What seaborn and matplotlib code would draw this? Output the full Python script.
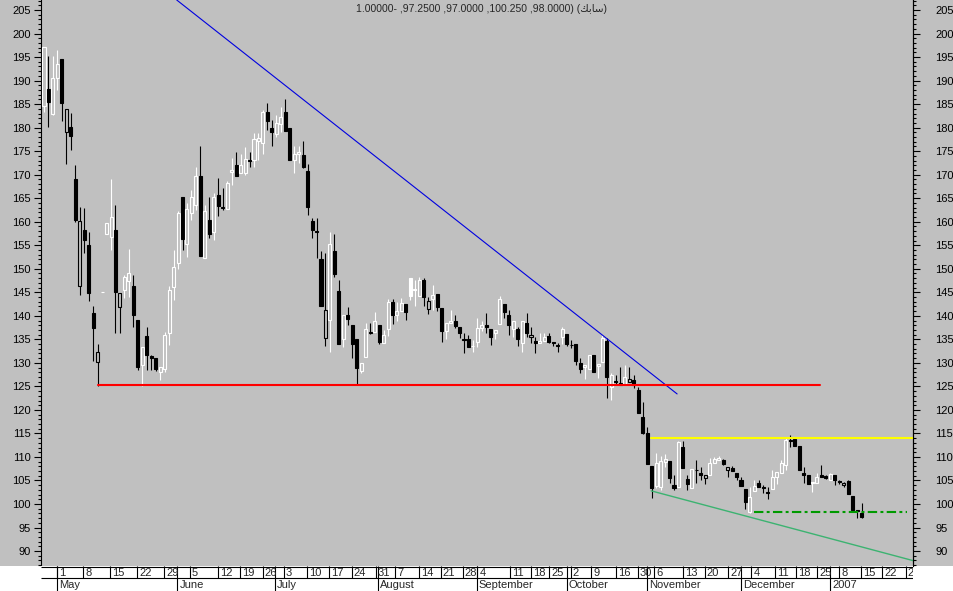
import matplotlib
matplotlib.use("Agg")
import matplotlib.pyplot as plt
from matplotlib.ticker import MultipleLocator
from matplotlib.patches import Rectangle
import numpy as np
import seaborn as sns

# daily candles, one per trading day
open_ = [184.7, 188.3, 183.0, 190.5, 194.5, 179.0, 180.2, 169.1, 146.4, 158.2,
         155.05, 140.5, 130.1, 145.1, 157.4, 156.7, 158.2, 141.9, 145.5, 147.5,
         146.3, 139.1, 129.5, 135.7, 131.5, 131.0, 128.1, 128.6, 136.3, 146.05,
         151.2, 165.3, 155.2, 161.8, 163.55, 169.7, 152.2, 160.4, 157.9, 165.7,
         162.9, 162.8, 170.6, 172.1, 170.3, 170.4, 173.2, 173.2, 177.2, 176.66,
         183.25, 180.0, 178.7, 180.8, 183.25, 180.0, 173.1, 174.4, 174.2, 170.8,
         160.2, 158.1, 152.1, 135.2, 139.1, 153.8, 145.35, 135.0, 140.2, 138.0,
         135.0, 128.35, 131.3, 136.6, 136.6, 138.0, 134.3, 137.1, 142.9, 140.2,
         141.1, 142.5, 148.1, 145.4, 144.2, 147.6, 141.4, 143.5, 144.6, 141.7,
         136.85, 138.4, 139.0, 137.7, 135.0, 135.0, 133.5, 134.5, 137.34, 138.05,
         137.2, 136.3, 138.3, 142.5, 140.2, 137.1, 137.2, 134.3, 138.4, 135.4,
         134.65, 134.2, 134.65, 135.7, 134.5, 133.7, 135.6, 136.1, 133.9, 134.0,
         129.9, 129.2, 128.8, 131.7, 129.4, 130.25, 134.7, 124.9, 126.1, 125.8,
         125.5, 126.0, 126.4, 124.2, 118.6, 115.0, 108.1, 103.9, 103.7, 109.0,
         109.2, 104.0, 103.7, 112.05, 105.25, 103.3, 107.3, 106.5, 105.5, 106.2,
         108.65, 109.35, 109.35, 107.2, 107.6, 106.7, 105.1, 103.2, 98.4, 102.75,
         104.4, 103.6, 102.5, 103.1, 105.7, 106.7, 108.3, 113.7, 113.75, 112.3,
         106.5, 106.2, 104.4, 104.5, 106.2, 106.0, 105.1, 106.2, 104.8, 104.05,
         104.9, 101.7, 98.8, 98.0]
high = [197.1, 195.2, 195.2, 196.6, 194.6, 184.0, 183.2, 172.1, 163.2, 162.85,
        157.9, 142.1, 134.0, 145.1, 159.7, 169.0, 163.55, 144.8, 148.7, 154.1,
        148.6, 139.1, 133.3, 137.7, 131.7, 131.0, 129.05, 136.6, 146.3, 154.0,
        162.3, 165.3, 164.0, 166.7, 171.6, 176.1, 163.5, 165.3, 166.0, 169.2,
        167.1, 168.7, 173.6, 174.9, 174.5, 175.9, 174.9, 178.8, 178.8, 183.75,
        185.2, 181.6, 182.7, 184.45, 186.1, 180.0, 176.2, 176.0, 177.2, 172.3,
        160.7, 160.7, 153.8, 153.3, 157.9, 157.3, 147.6, 140.2, 141.8, 138.0,
        135.0, 129.9, 138.4, 138.4, 140.9, 138.0, 137.0, 143.6, 143.5, 143.0,
        143.7, 142.5, 148.1, 147.6, 148.3, 148.0, 144.1, 146.6, 144.6, 141.7,
        138.4, 141.2, 140.2, 137.7, 136.3, 135.9, 134.9, 139.5, 139.0, 140.5,
        137.2, 137.0, 144.2, 142.5, 141.2, 138.8, 137.7, 139.0, 140.5, 137.7,
        135.6, 136.3, 136.3, 136.3, 134.5, 134.3, 137.7, 136.1, 134.9, 134.0,
        131.0, 129.5, 131.7, 131.7, 129.8, 135.9, 135.2, 127.8, 127.4, 129.2,
        129.5, 129.2, 127.4, 124.8, 121.7, 116.4, 108.1, 110.9, 110.3, 110.6,
        109.2, 106.2, 113.5, 113.5, 106.2, 107.4, 109.3, 107.9, 106.2, 109.7,
        109.9, 110.2, 109.6, 107.9, 108.0, 106.7, 105.8, 103.2, 103.7, 105.1,
        105.1, 104.0, 103.7, 107.2, 106.9, 109.4, 114.0, 114.7, 113.75, 112.3,
        107.9, 106.2, 104.75, 106.5, 108.3, 106.2, 106.6, 106.2, 105.0, 104.75,
        105.0, 101.7, 98.8, 100.25]
low = [183.4, 180.2, 182.7, 188.1, 181.5, 172.2, 175.2, 160.0, 144.4, 153.4,
       143.2, 130.5, 125.1, 145.1, 157.4, 154.0, 136.4, 136.4, 143.7, 144.1,
       137.7, 128.5, 125.0, 128.5, 128.5, 128.3, 126.3, 128.1, 133.8, 143.4,
       149.9, 154.0, 152.6, 160.4, 162.5, 152.8, 152.2, 156.5, 156.1, 161.2,
       162.5, 162.8, 167.8, 169.7, 170.3, 170.0, 171.6, 171.7, 173.1, 174.5,
       179.5, 176.2, 178.1, 179.1, 179.35, 173.1, 170.3, 172.4, 171.35, 161.4,
       156.5, 152.2, 142.1, 133.6, 132.4, 148.3, 134.0, 133.4, 138.0, 131.0,
       125.5, 127.8, 131.3, 136.2, 136.6, 134.0, 134.3, 135.7, 138.3, 139.0,
       141.1, 139.1, 143.4, 142.1, 144.2, 142.1, 140.4, 141.2, 141.0, 134.5,
       135.0, 138.4, 137.35, 135.2, 132.0, 133.45, 132.4, 133.45, 136.8, 136.3,
       133.8, 135.0, 138.3, 139.5, 135.9, 135.6, 133.6, 132.4, 135.4, 134.2,
       132.2, 134.2, 134.65, 134.3, 133.6, 132.4, 134.0, 133.5, 133.1, 129.6,
       127.8, 126.5, 128.8, 128.1, 126.7, 130.25, 122.5, 122.1, 125.3, 125.3,
       125.5, 126.0, 124.6, 119.3, 114.9, 108.6, 101.2, 103.3, 103.0, 107.8,
       104.4, 103.0, 103.7, 107.6, 103.0, 103.3, 104.4, 105.1, 104.25, 106.2,
       108.65, 109.35, 108.3, 105.7, 107.1, 105.1, 103.9, 98.9, 98.0, 102.75,
       103.7, 102.3, 101.0, 103.1, 104.3, 106.7, 107.2, 112.2, 112.3, 107.2,
       104.4, 104.3, 102.6, 104.5, 105.7, 105.3, 105.1, 104.0, 104.3, 103.7,
       102.1, 98.2, 97.0, 97.0]
close = [197.1, 185.5, 190.5, 193.5, 185.2, 184.0, 178.3, 160.4, 160.15, 156.1,
         144.8, 137.5, 132.25, 145.1, 159.7, 161.1, 145.1, 144.8, 148.3, 149.2,
         140.2, 129.05, 133.3, 131.7, 131.1, 128.8, 129.05, 135.9, 145.5, 150.3,
         161.9, 156.25, 162.8, 165.3, 169.7, 152.8, 162.35, 157.4, 165.3, 163.3,
         163.2, 168.2, 171.0, 169.7, 172.0, 173.3, 173.0, 177.6, 177.7, 183.4,
         181.5, 179.0, 181.05, 182.2, 179.35, 173.1, 174.3, 174.9, 171.7, 163.2,
         158.2, 157.8, 142.1, 141.2, 155.3, 148.9, 134.0, 140.2, 139.3, 134.0,
         129.0, 129.9, 137.1, 136.3, 139.0, 134.5, 135.9, 143.0, 140.2, 141.0,
         142.7, 140.9, 144.2, 145.6, 147.6, 143.9, 143.2, 144.4, 141.8, 136.85,
         138.4, 139.0, 137.8, 136.4, 134.9, 133.45, 133.6, 137.35, 138.05, 137.55,
         135.6, 137.0, 143.5, 140.9, 138.05, 138.8, 135.1, 139.0, 136.3, 135.9,
         134.2, 134.6, 135.6, 134.5, 134.15, 133.6, 137.1, 134.0, 133.8, 130.5,
         128.7, 129.5, 131.7, 128.1, 129.8, 135.2, 127.07, 127.4, 126.0, 125.4,
         127.1, 126.5, 125.3, 119.3, 115.2, 108.6, 103.3, 108.65, 109.2, 109.5,
         105.5, 103.3, 113.25, 107.6, 104.25, 107.4, 107.2, 106.2, 106.1, 108.8,
         109.5, 109.7, 108.5, 107.9, 107.1, 105.7, 103.9, 100.5, 101.4, 103.8,
         103.7, 103.5, 102.4, 105.7, 106.9, 108.8, 113.6, 113.5, 112.3, 107.2,
         106.2, 104.3, 104.75, 105.8, 105.7, 105.5, 106.4, 105.0, 104.7, 104.5,
         102.1, 98.7, 98.6, 97.25]

# date axis (positions in trading-day slots)
day_labels = ["1", "8", "15", "22", "29", "5", "12", "19", "26", "3", "10", "17",
              "24", "31", "7", "14", "21", "28", "4", "11", "18", "25", "2", "9",
              "16", "30", "6", "13", "20", "27", "4", "11", "18", "25", "8", "15",
              "22", "29"]
day_pos = [2.84, 8.80, 14.77, 20.88, 26.93, 32.68, 39.01, 43.87, 48.95, 53.72,
           58.93, 63.86, 68.87, 74.31, 78.63, 84.0, 88.79, 93.71, 96.98, 104.23,
           109.06, 113.03, 117.88, 122.5, 128.09, 132.95, 136.53, 143.08, 147.87,
           153.09, 158.3, 163.54, 168.24, 173.07, 177.93, 182.79, 187.62, 192.86]
month_labels = ["May", "June", "July", "August", "September", "October",
                "November", "December", "2007"]
month_pos = [2.84, 29.83, 51.7, 74.82, 96.84, 116.99, 135.03, 155.93, 175.92]

# drawn trend lines: (slot, price)
blue_x, blue_y = [29.7, 141.7], [207.13, 123.4]
red_x, red_y = [12.0, 173.7], [125.4, 125.4]
yellow_x, yellow_y = [135.8, 194.5], [113.96, 113.96]
green_x, green_y = [135.9, 194.6], [102.8, 87.95]
gdash_x, gdash_y = [158.9, 193.2], [98.2, 98.2]

header = "1.00000- ,97.2500 ,97.0000 ,100.250 ,98.0000) (\uFEDA\uFE91\uFE8E\uFEB3)"

BG = "#C0C0C0"
W, H = 954, 591
X0, SLOT = 44.0, 4.468
STRIP = 25

sns.set_theme(style="ticks", rc={"axes.facecolor": BG, "figure.facecolor": BG,
                                 "axes.edgecolor": "black", "xtick.color": "black",
                                 "ytick.color": "black"})
plt.rcParams["font.family"] = ["Liberation Sans", "DejaVu Sans"]
plt.rcParams["font.size"] = 8

fig = plt.figure(figsize=(W / 100, H / 100), dpi=100)
fig.patches.append(Rectangle((0, 0), 1, STRIP / H, transform=fig.transFigure,
                             facecolor="white", edgecolor="none", zorder=-5))

ax = fig.add_axes([41 / W, STRIP / H, 872 / W, (H - STRIP) / H])
xlim = ((41 - X0) / SLOT, (913 - X0) / SLOT)
ylim = (205 - 556 / 4.705, 205 + 10 / 4.705)
ax.set_xlim(xlim)
ax.set_ylim(ylim)

o = np.array(open_)
h = np.array(high)
l = np.array(low)
c = np.array(close)
x = np.arange(len(c))
prev = np.concatenate([[c[0] - 1], c[:-1]])
edge = np.where(c >= prev, "white", "black")
face = np.where(c > o, BG, edge)

ax.vlines(x, l, h, colors=edge, lw=0.8, zorder=2)
body_h = np.maximum(np.abs(c - o), 0.05)
ax.bar(x, body_h, bottom=np.minimum(o, c), width=0.68, color=face,
       edgecolor=edge, linewidth=0.8, zorder=3)

sns.lineplot(x=blue_x, y=blue_y, color="#0000E0", lw=0.8, ax=ax, zorder=4)
sns.lineplot(x=red_x, y=red_y, color="#FF0000", lw=1.5, ax=ax, zorder=4)
sns.lineplot(x=yellow_x, y=yellow_y, color="#FFFF00", lw=1.5, ax=ax, zorder=4)
sns.lineplot(x=green_x, y=green_y, color="#3CB371", lw=1.0, ax=ax, zorder=4)
sns.lineplot(x=gdash_x, y=gdash_y, color="#009A00", lw=1.5, ax=ax, zorder=4,
             linestyle=(0, (4.5, 1.6, 1.4, 1.6)))

ax.set_xticks([])
for s in ["top", "bottom"]:
    ax.spines[s].set_visible(False)
for s in ["left", "right"]:
    ax.spines[s].set_linewidth(0.8)
ax.yaxis.set_major_locator(MultipleLocator(5))
ax.yaxis.set_minor_locator(MultipleLocator(1))
ax.tick_params(axis="y", which="major", length=5, width=0.8, pad=2.4, labelsize=8)
ax.tick_params(axis="y", which="minor", length=2.2, width=0.8)

ax2 = ax.twinx()
ax2.set_ylim(ylim)
ax2.yaxis.set_major_locator(MultipleLocator(5))
ax2.yaxis.set_minor_locator(MultipleLocator(1))
ax2.tick_params(axis="y", which="major", length=5, width=0.8, pad=11, labelsize=8)
ax2.tick_params(axis="y", which="minor", length=2.2, width=0.8)
for s in ["top", "bottom", "left"]:
    ax2.spines[s].set_visible(False)
ax2.spines["right"].set_linewidth(0.8)

# date strip
axd = fig.add_axes([41 / W, 0, 872 / W, STRIP / H])
axd.set_facecolor("white")
axd.set_zorder(5)
axd.set_xlim(xlim)
axd.set_ylim(STRIP, 0)
axd.set_xticks([])
axd.set_yticks([])
for s in axd.spines.values():
    s.set_visible(False)
axd.hlines([0.5, 12], xlim[0], xlim[1], colors="black", lw=0.8)
axd.vlines(day_pos, 0, 12, colors="black", lw=0.8)
axd.vlines(month_pos, 0, STRIP, colors="black", lw=0.8)
for p, t in zip(day_pos, day_labels):
    axd.text(p + 0.45, 6.5, t, ha="left", va="center", fontsize=8, clip_on=True)
for p, t in zip(month_pos, month_labels):
    axd.text(p + 0.45, 19, t, ha="left", va="center", fontsize=8, clip_on=True)

fig.text(482 / W, 1 - 9 / H, header, ha="center", va="center", fontsize=7.5)

fig.savefig("out.png", dpi=100, facecolor=BG)
